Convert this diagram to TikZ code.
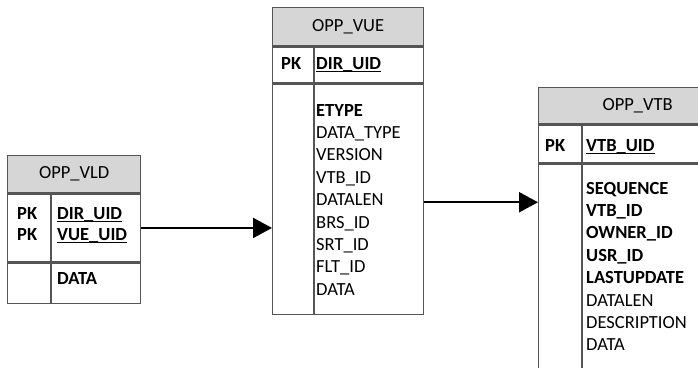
\documentclass[tikz,border=0pt]{standalone}
\usepackage{fontspec}
\setmainfont{Carlito}
\usetikzlibrary{arrows.meta}
\definecolor{boxgray}{RGB}{85,85,85}
\definecolor{hdrgray}{RGB}{214,214,214}
\newcommand{\keyul}[1]{\setbox0\hbox{#1}\rlap{\rule[-2.8pt]{\wd0}{1pt}}\box0}
\tikzset{
  tbl/.style={draw=boxgray, line width=1.3pt, inner sep=0pt, anchor=north west},
  hdr/.style={tbl, fill=hdrgray, font=\fontsize{18.5}{22}\selectfont},
  lbl/.style={inner sep=0pt, anchor=base west, font=\fontsize{18.5}{22}\selectfont},
  divider/.style={draw=boxgray, line width=1.3pt},
  link/.style={line width=2.2pt, -{Triangle[length=19pt,width=20pt]}}
}
\begin{document}
\begin{tikzpicture}[x=1pt, y=-1pt]
\useasboundingbox (0,0) rectangle (698,367);

% OPP_VLD
\node[hdr, minimum width=133pt, minimum height=37pt] (vldhead) at (7,155) {OPP\_VLD};
\node[tbl, minimum width=133pt, minimum height=68pt] (vldkey) at (vldhead.south west) {};
\node[tbl, minimum width=133pt, minimum height=40pt] (vldbody) at (vldkey.south west) {};
\coordinate (vldcol) at (51,0);
\draw[divider] (vldkey.north -| vldcol) -- (vldbody.south -| vldcol);
\node[lbl] (vldpk1) at (17,219) {\textbf{PK}};
\node[lbl] (vldpk2) at (17,240) {\textbf{PK}};
\node[lbl] (vldk1) at (57,219) {\keyul{\textbf{DIR\_UID}}};
\node[lbl] (vldk2) at (57,240) {\keyul{\textbf{VUE\_UID}}};
\node[lbl] (vldf0) at (57,284) {\textbf{DATA}};

% OPP_VUE
\node[hdr, minimum width=151pt, minimum height=38pt] (vuehead) at (272,7) {OPP\_VUE};
\node[tbl, minimum width=151pt, minimum height=36pt] (vuekey) at (vuehead.south west) {};
\node[tbl, minimum width=151pt, minimum height=230pt] (vuebody) at (vuekey.south west) {};
\coordinate (vuecol) at (314,0);
\draw[divider] (vuekey.north -| vuecol) -- (vuebody.south -| vuecol);
\node[lbl] (vuepk) at (281,69) {\textbf{PK}};
\node[lbl] (vuek) at (316,69) {\keyul{\textbf{DIR\_UID}}};
\foreach \f [count=\i from 0] in {\textbf{ETYPE}, DATA\_TYPE, VERSION, VTB\_ID, DATALEN, BRS\_ID, SRT\_ID, FLT\_ID, DATA}
  \node[lbl] (vuef\i) at (316,116+22.4*\i) {\f};

% OPP_VTB
\node[hdr, minimum width=198pt, minimum height=36pt] (vtbhead) at (538,87) {OPP\_VTB};
\node[tbl, minimum width=198pt, minimum height=38pt] (vtbkey) at (vtbhead.south west) {};
\node[tbl, minimum width=198pt, minimum height=230pt] (vtbbody) at (vtbkey.south west) {};
\coordinate (vtbcol) at (582,0);
\draw[divider] (vtbkey.north -| vtbcol) -- (vtbbody.south -| vtbcol);
\node[lbl] (vtbpk) at (545,151) {\textbf{PK}};
\node[lbl] (vtbk) at (586,151) {\keyul{\textbf{VTB\_UID}}};
\foreach \f [count=\i from 0] in {\textbf{SEQUENCE}, \textbf{VTB\_ID}, \textbf{OWNER\_ID}, \textbf{USR\_ID}, \textbf{LASTUPDATE}, DATALEN, DESCRIPTION, DATA}
  \node[lbl] (vtbf\i) at (586,194+22.4*\i) {\f};

% links
\coordinate (vueout) at ([yshift=-3pt]vuebody.east);
\draw[link] (vldkey.east) -- (vuebody.west |- vldkey.east);
\draw[link] (vueout) -- (vtbbody.west |- vueout);
\end{tikzpicture}
\end{document}
